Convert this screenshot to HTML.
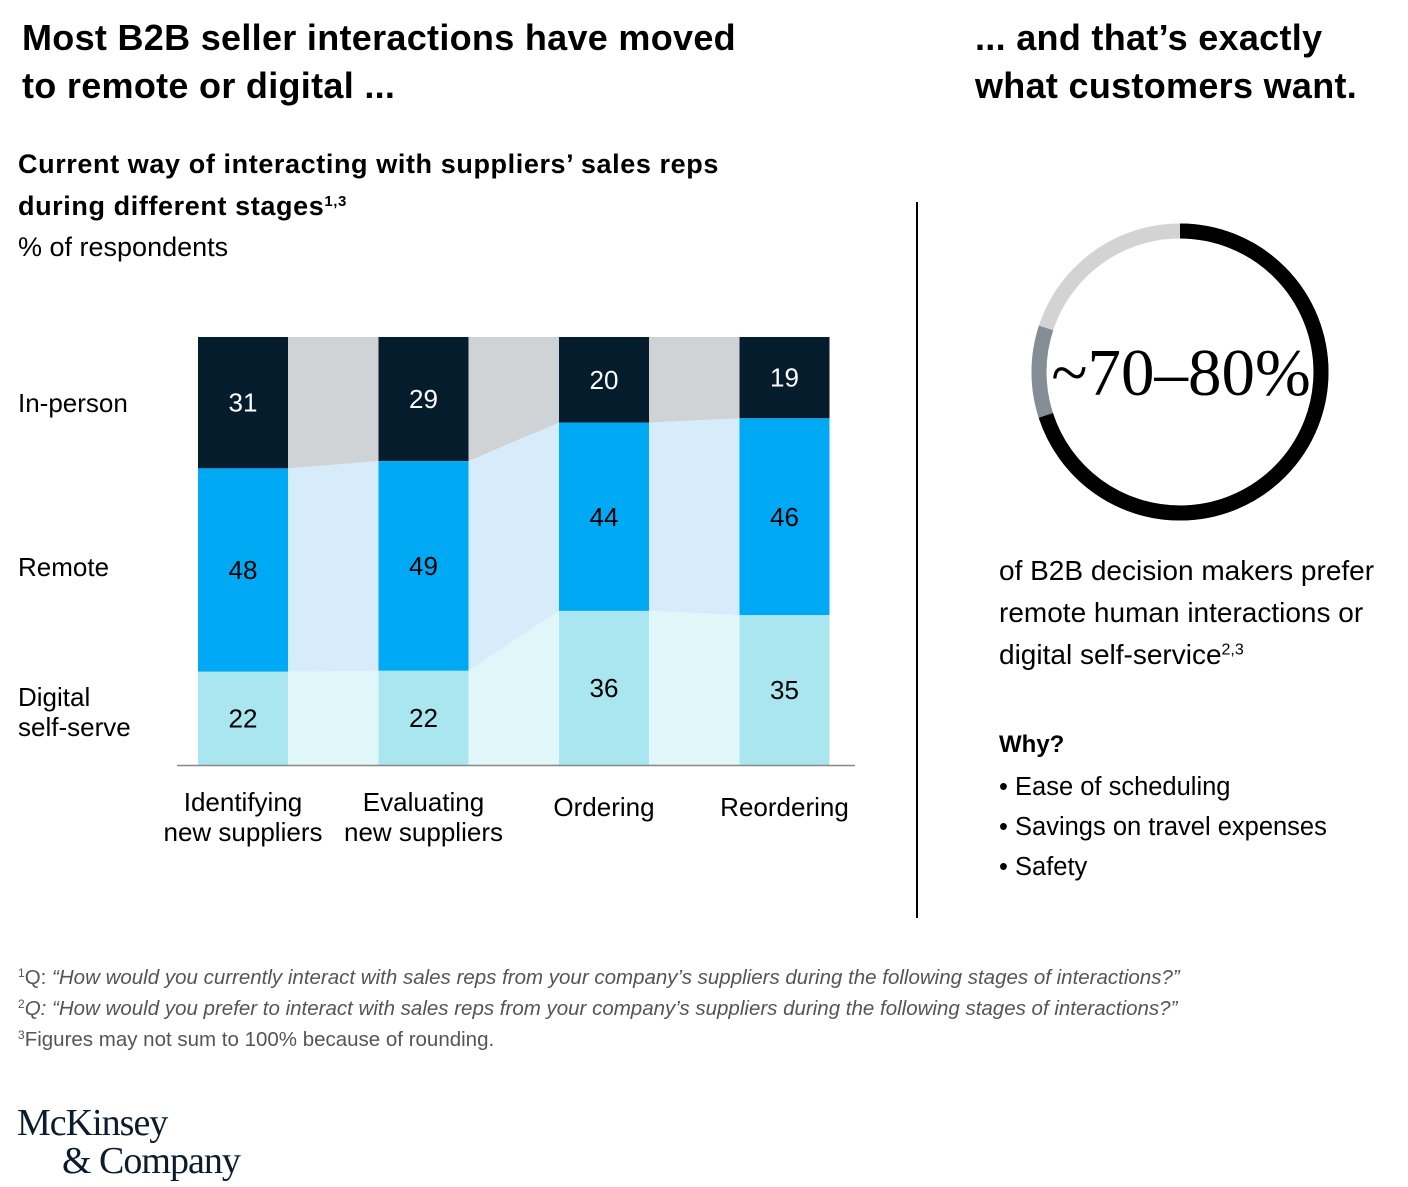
<!DOCTYPE html>
<html><head><meta charset="utf-8"><style>
body{margin:0;width:1408px;height:1187px;background:#fff;font-family:"Liberation Sans",sans-serif;color:#000;position:relative;overflow:hidden}
.a{position:absolute;margin:0}
h1{font-size:36px;font-weight:bold;line-height:48px;letter-spacing:0.3px}
.sub{font-size:27px;font-weight:bold;line-height:42px;letter-spacing:0.6px}
.fn{font-size:20.5px;color:#555;line-height:31px}
sup{line-height:0;vertical-align:0.6em}
</style></head><body>
<h1 class="a" style="left:22px;top:14px">Most B2B seller interactions have moved<br>to remote or digital ...</h1>
<h1 class="a" style="left:975px;top:14px">... and that’s exactly<br>what customers want.</h1>
<div class="a sub" style="left:18px;top:143px">Current way of interacting with suppliers’ sales reps<br>during different stages<sup style="font-size:15px">1,3</sup></div>
<div class="a" style="left:18px;top:232px;font-size:27px">% of respondents</div>
<div class="a" style="left:916px;top:202px;width:2px;height:716px;background:#000"></div>
<svg class="a" style="left:0;top:0" width="900" height="900" id="chart"></svg>
<svg class="a" style="left:1020px;top:212px" width="320" height="320">
<circle cx="160" cy="160" r="141" fill="none" stroke="#d3d3d3" stroke-width="15"/>
<circle cx="160" cy="160" r="141" fill="none" stroke="#848e96" stroke-width="15" stroke-dasharray="709 1000" transform="rotate(-90 160 160)"/>
<circle cx="160" cy="160" r="141" fill="none" stroke="#000" stroke-width="15" stroke-dasharray="620 1000" transform="rotate(-90 160 160)"/>
<text x="161" y="183" text-anchor="middle" font-family="Liberation Serif,serif" font-size="67">~70–80%</text>
</svg>
<div class="a" style="left:999px;top:550px;font-size:28px;line-height:42px">of B2B decision makers prefer<br>remote human interactions or<br>digital self-service<sup style="font-size:16px">2,3</sup></div>
<div class="a" style="left:999px;top:731px;font-size:24px;font-weight:bold">Why?</div>
<div class="a" style="left:999px;top:767px;font-size:25.5px;line-height:40px">• Ease of scheduling<br>• Savings on travel expenses<br>• Safety</div>
<div class="a fn" style="left:18px;top:962px"><sup style="font-size:12px">1</sup>Q: <i>“How would you currently interact with sales reps from your company’s suppliers during the following stages of interactions?”</i><br><sup style="font-size:12px">2</sup><i>Q: “How would you prefer to interact with sales reps from your company’s suppliers during the following stages of interactions?”</i><br><sup style="font-size:12px">3</sup>Figures may not sum to 100% because of rounding.</div>
<div class="a" style="left:17px;top:1104px;font-family:'Liberation Serif',serif;font-size:38px;line-height:38px;color:#0b1c2c;letter-spacing:-1px">McKinsey<br><span style="padding-left:45px">&amp; Company</span></div>
<script>
const categories=["Identifying|new suppliers","Evaluating|new suppliers","Ordering","Reordering"];
const inPerson=[31,29,20,19];
const remote=[48,49,44,46];
const digital=[22,22,36,35];
const seriesNames=["In-person","Remote","Digital|self-serve"];
const NS="http://www.w3.org/2000/svg",svg=document.getElementById('chart');
const top0=337,bot=765,barW=90,xs=i=>198+i*180.5;
function mk(t,a){const e=document.createElementNS(NS,t);for(const k in a)e.setAttribute(k,a[k]);svg.appendChild(e);return e;}
const bounds=categories.map((c,i)=>{const s=inPerson[i]+remote[i]+digital[i],k=(bot-top0)/s;
 return [top0,top0+inPerson[i]*k,top0+(inPerson[i]+remote[i])*k,bot];});
const seg=[["#051c2c","#d0d3d6","#fff"],["#00a9f4","#d6ecfb","#000"],["#aae6f0","#e0f6f9","#000"]];
const segData=[inPerson,remote,digital];
for(let i=0;i<categories.length-1;i++){const x1=xs(i)+barW,x2=xs(i+1),b=bounds[i],c=bounds[i+1];
 for(let s=0;s<3;s++){const p=mk('polygon',{points:`${x1},${b[s]} ${x2},${c[s]} ${x2},${c[s+1]} ${x1},${b[s+1]}`,fill:seg[s][1]});
 
 }}
categories.forEach((c,i)=>{const b=bounds[i];
 for(let s=0;s<3;s++){const r=mk('rect',{x:xs(i),y:b[s],width:barW,height:b[s+1]-b[s],fill:seg[s][0]});
 
 
 const t=mk('text',{x:xs(i)+barW/2,y:(b[s]+b[s+1])/2+9,'text-anchor':'middle','font-size':26,fill:seg[s][2]});t.textContent=segData[s][i];
 
 }
 const lines=c.split('|');lines.forEach((l,j)=>{const t=mk('text',{x:xs(i)+barW/2,y:(lines.length==1?816:811)+j*30,'text-anchor':'middle','font-size':26});t.textContent=l;
 
 });
});
const ax=mk('line',{x1:177,x2:855,y1:765.5,y2:765.5,stroke:'#888','stroke-width':1.5});


const sy=[[412],[576],[706,736]];
seriesNames.forEach((n,s)=>{n.split('|').forEach((l,j)=>{const t=mk('text',{x:18,y:sy[s][j],'font-size':26});t.textContent=l;
 
 });});
</script>
</body></html>
